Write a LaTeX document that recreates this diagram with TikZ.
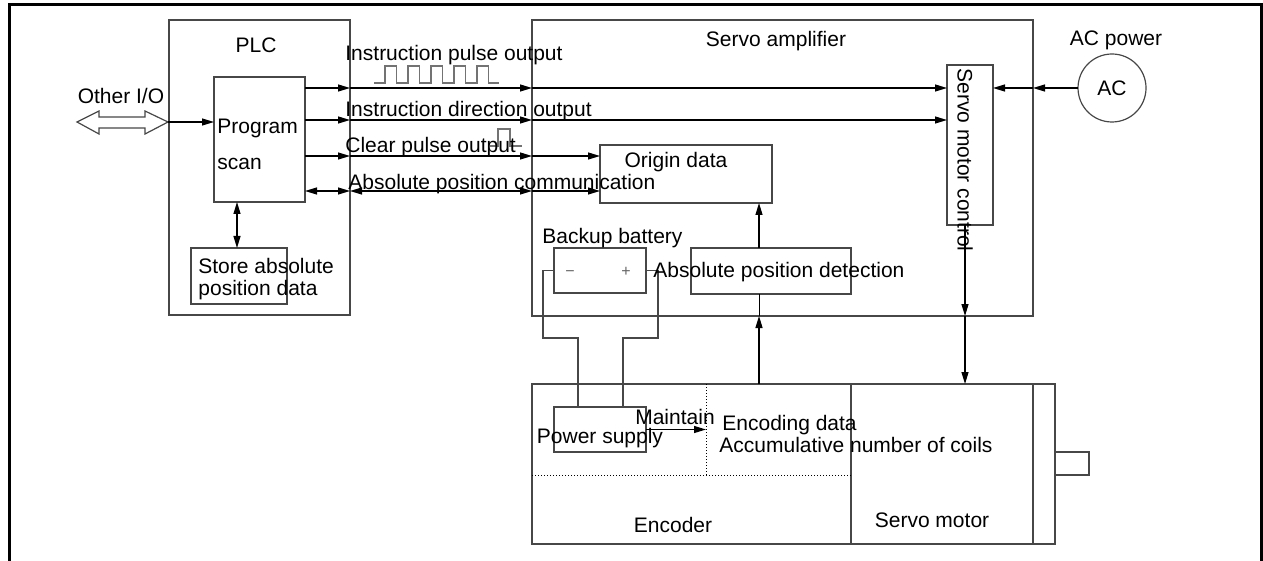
\documentclass[tikz,border=0pt]{standalone}
\usepackage{fontspec}
\setmainfont{Liberation Sans}
\usetikzlibrary{arrows.meta,positioning}

\begin{document}
\begin{tikzpicture}[x=0.5pt, y=-0.5pt, every node/.style={font=\fontsize{10.5}{12.6}\selectfont, inner sep=0pt},
      box/.style={draw=black!72, line width=0.6pt, outer sep=0pt},
      wire/.style={draw=black!72, line width=0.6pt},
      wave/.style={draw=black!55, line width=0.6pt},
      dotline/.style={densely dotted, line width=0.5pt},
      arr/.style={-{Triangle[length=6pt,width=3.5pt]}, line width=0.6pt},
      dbl/.style={{Triangle[length=6pt,width=3.5pt]}-{Triangle[length=6pt,width=3.5pt]}, line width=0.6pt},
      lbl/.style={anchor=base}, lblw/.style={anchor=base west}]
    \useasboundingbox (0,0) rectangle (1263,561);
    \draw[line width=1.5pt] (9,561) -- (9,5) -- (1261,5) -- (1261,561);
    \node[box, minimum width=90.5pt, minimum height=147.5pt] (plc) at (259.5,167.5) {};
    \node[box, minimum width=45.5pt, minimum height=62.5pt] (prog) at (259.5,139.5) {};
    \node[box, minimum width=48pt, minimum height=28pt] (store) at (239,276) {};
    \node[box, minimum width=250.5pt, minimum height=148pt] (amp) at (782.5,168) {};
    \node[box, minimum width=23pt, minimum height=80pt] (smc) at (970,145) {};
    \node[box, minimum width=86pt, minimum height=29pt] (origin) at (686,174) {};
    \node[box, minimum width=80pt, minimum height=23pt] (absdet) at (771,271) {};
    \node[box, minimum width=46pt, minimum height=22.5pt] (bat) at (600,270.5) {};
    \node[box, circle, minimum size=34pt] (ac) at (1112,88) {AC};
    \node[box, minimum width=159.5pt, minimum height=80pt] (enc) at (691.5,464) {};
    \node[box, minimum width=91pt, minimum height=80pt] (mot) at (942,464) {};
    \node[box, minimum width=11pt, minimum height=80pt] (strip) at (1044,464) {};
    \node[box, minimum width=17pt, minimum height=11.5pt] (shaft) at (1072,463.5) {};
    \node[box, minimum width=46pt, minimum height=22.5pt] (power) at (600,429.5) {};
    \coordinate (io) at (168,122); \coordinate (pulse) at (0,88); \coordinate (dir) at (0,120);
    \coordinate (clr) at (0,156); \coordinate (com) at (0,191); \coordinate (stx) at (237,0);
    \coordinate (smcx) at (965,0); \coordinate (detx) at (759,0); \coordinate (dotx) at (706,0); \coordinate (doty) at (0,475);
    \draw[wire] (77,122) -- (99,111) -- (99,117) -- (145,117) -- (145,111) -- (io) -- (145,134) -- (145,128) -- (99,128) -- (99,134) -- cycle;
    \draw[wave] (374,83) foreach \x in {385,408,431,454,477} { -- (\x,83) -- (\x,66) -- (\x+11.5,66) -- (\x+11.5,83) } -- (499,83);
    \draw[wave] (490,146) -- (498,146) -- (498,129) -- (510,129) -- (510,146) -- (522,146);
    \draw[dotline] (dotx |- enc.north) -- (dotx |- doty); \draw[dotline] (enc.west |- doty) -- (enc.east |- doty);
    \draw[arr] (io) -- (prog.west |- io); \draw[dbl] (stx |- prog.south) -- (stx |- store.north);
    \draw[arr] (prog.east |- pulse) -- (plc.east |- pulse); \draw[arr] (plc.east |- pulse) -- (amp.west |- pulse); \draw[arr] (amp.west |- pulse) -- (smc.west |- pulse);
    \draw[arr] (prog.east |- dir) -- (plc.east |- dir); \draw[arr] (plc.east |- dir) -- (amp.west |- dir); \draw[arr] (amp.west |- dir) -- (smc.west |- dir);
    \draw[arr] (prog.east |- clr) -- (plc.east |- clr); \draw[arr] (plc.east |- clr) -- (amp.west |- clr); \draw[arr] (amp.west |- clr) -- (origin.west |- clr);
    \draw[dbl] (prog.east |- com) -- (plc.east |- com); \draw[dbl] (plc.east |- com) -- (amp.west |- com); \draw[arr] (amp.west |- com) -- (origin.west |- com);
    \draw[arr] (ac.west) -- (amp.east |- ac.west); \draw[arr] (amp.east |- ac.west) -- (smc.east |- ac.west);
    \draw[arr] (smcx |- smc.south) -- (smcx |- amp.south); \draw[arr] (smcx |- amp.south) -- (smcx |- mot.north);
    \draw[arr] (detx |- absdet.north) -- (detx |- origin.south);
    \draw[arr] (detx |- enc.north) -- (detx |- amp.south); \draw (detx |- amp.south) -- (detx |- absdet.south);
    \draw[wire] (bat.west) -| (543,338) -| ([xshift=-11pt]power.north);
    \draw[wire] (bat.east) -| (658,338) -| ([xshift=11.5pt]power.north);
    \draw[arr] (power.east) -- (power.east -| dotx);
    \node[lbl] (plc-t) at (256,53) {PLC};
    \node[lbl] (amp-t) at (776,47) {Servo amplifier};
    \node[lbl] (ac-t) at (1116,46) {AC power};
    \node[lbl] (io-t) at (121,104) {Other I/O};
    \node[lblw] (prog-t1) at (217,134) {Program};
    \node[lblw] (prog-t2) at (217,170) {scan};
    \node[lblw] (store-t1) at (198,273) {Store absolute};
    \node[lblw] (store-t2) at (198,295) {position data};
    \node[lblw] (pulse-t) at (345,61) {Instruction pulse output};
    \node[lblw] (dir-t) at (345,117) {Instruction direction output};
    \node[lblw] (clr-t) at (345,153) {Clear pulse output};
    \node[lblw] (com-t) at (348,190) {Absolute position communication};
    \node[lbl] (origin-t) at (676,168) {Origin data};
    \node[lblw] (bat-t) at (542,243) {Backup battery};
    \node[lbl, font=\fontsize{8}{9}\selectfont, text=black!60] (minus) at (570,277) {−};
    \node[lbl, font=\fontsize{8}{9}\selectfont, text=black!60] (plus) at (626,277) {+};
    \node[lblw] (absdet-t) at (653,278) {Absolute position detection};
    \node[rotate=-90] (smc-t) at (965,160) {Servo motor control};
    \node[lbl] (keep-t) at (675,424) {Maintain};
    \node[lbl] (power-t) at (600,443) {Power supply};
    \node[lblw] (enc-t1) at (722,430) {Encoding data};
    \node[lblw] (enc-t2) at (719,452) {Accumulative number of coils};
    \node[lbl] (enc-t) at (673,532) {Encoder};
    \node[lbl] (mot-t) at (932,527) {Servo motor};
  \end{tikzpicture}
\end{document}
